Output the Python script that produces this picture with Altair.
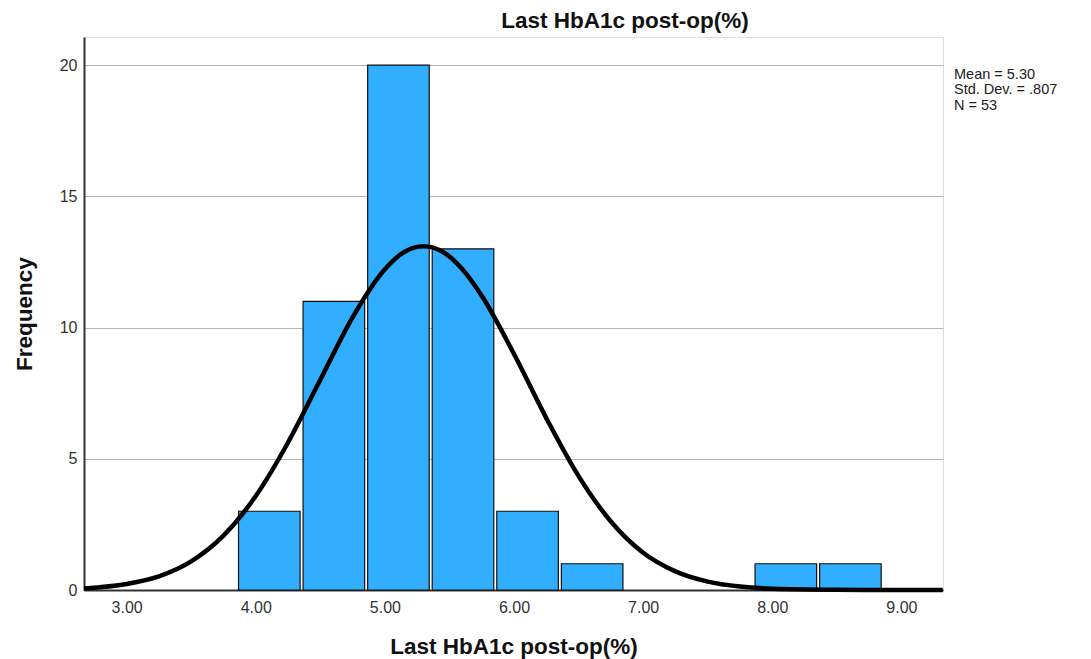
import altair as alt
import pandas as pd

# Histogram bins
bin_start = [3.855, 4.355, 4.855, 5.355, 5.855, 6.355, 7.855, 8.355]
bin_end = [4.355, 4.855, 5.355, 5.855, 6.355, 6.855, 8.355, 8.855]
counts = [3, 11, 20, 13, 3, 1, 1, 1]

# Normal curve
curve_x = [2.67, 3.0, 3.25, 3.5, 3.75, 4.0, 4.25, 4.5, 4.75, 5.0, 5.15, 5.3,
           5.45, 5.6, 5.75, 6.0, 6.25, 6.5, 6.75, 7.0, 7.25, 7.5, 7.75, 8.0,
           8.5, 9.0, 9.32]
curve_y = [0.06, 0.23, 0.52, 1.09, 2.07, 3.58, 5.62, 8.01, 10.39, 12.22, 12.88,
           13.10, 12.88, 12.22, 11.21, 8.99, 6.55, 4.34, 2.61, 1.42, 0.71, 0.32,
           0.13, 0.05, 0.01, 0.0, 0.0]

x_ticks = [3, 4, 5, 6, 7, 8, 9]
y_ticks = [0, 5, 10, 15, 20]
stats_lines = ["Mean = 5.30", "Std. Dev. = .807", "N = 53"]
title_text = "Last HbA1c post-op(%)"

bars_df = pd.DataFrame({"start": bin_start, "end": bin_end, "count": counts})
curve_df = pd.DataFrame({"x": curve_x, "y": curve_y})
stats_df = pd.DataFrame({"line": [stats_lines]})
title_df = pd.DataFrame({"t": [title_text]})

FONT = "Liberation Sans"
xscale = alt.Scale(domain=[2.67, 9.322], nice=False, zero=False)
yscale = alt.Scale(domain=[0, 21.07], nice=False)

xaxis = alt.Axis(
    title="Last HbA1c post-op(%)", values=x_ticks, format=".2f", grid=False,
    ticks=False, labelFontSize=16, labelColor="#333333", labelPadding=9,
    titleFontSize=22.5, titleFontWeight="bold", titleColor="#111111",
    titleX=429.5, titleY=63.6, titleBaseline="alphabetic", titleAlign="center",
    domainColor="#333333", domainWidth=2, labelFont=FONT, titleFont=FONT,
)
yaxis = alt.Axis(
    title="Frequency", values=y_ticks, grid=True, gridColor="#b5b5b5",
    gridWidth=1.2, ticks=False, labelFontSize=16, labelColor="#333333",
    labelPadding=7, titleFontSize=22.5, titleFontWeight="bold",
    titleColor="#111111", titleX=-60, titleY=276.7, titleAngle=-90,
    titleBaseline="middle", titleAlign="center", domainColor="#333333",
    domainWidth=2, labelFont=FONT, titleFont=FONT,
)

bars = alt.Chart(bars_df).mark_rect(
    color="#31AEFF", stroke="#111111", strokeWidth=1.2, xOffset=1.5, x2Offset=-1.5
).encode(
    x=alt.X("start:Q", scale=xscale, axis=xaxis),
    x2="end:Q",
    y=alt.Y("count:Q", scale=yscale, axis=yaxis),
    y2=alt.datum(0),
)

curve = alt.Chart(curve_df).mark_line(
    color="#000000", strokeWidth=4.5, interpolate="monotone"
).encode(
    x=alt.X("x:Q", scale=xscale),
    y=alt.Y("y:Q", scale=yscale),
)

stats = alt.Chart(stats_df).mark_text(
    align="left", baseline="middle", fontSize=14.5, font=FONT,
    color="#222222", lineHeight=15.5
).encode(
    x=alt.value(870), y=alt.value(37.5), text="line"
)

title = alt.Chart(title_df).mark_text(
    align="center", baseline="alphabetic", fontSize=22.5, fontWeight="bold",
    font=FONT, color="#111111"
).encode(
    x=alt.value(541), y=alt.value(-9), text="t"
)

chart = alt.layer(bars, curve, stats, title).properties(
    width=859, height=553,
    padding={"left": 76, "top": 29, "right": 140, "bottom": 69},
    autosize=alt.AutoSizeParams(type="none"),
).configure_view(stroke=None).configure(font=FONT)

chart.save("out.html", embed_options={"renderer": "svg", "actions": False})
